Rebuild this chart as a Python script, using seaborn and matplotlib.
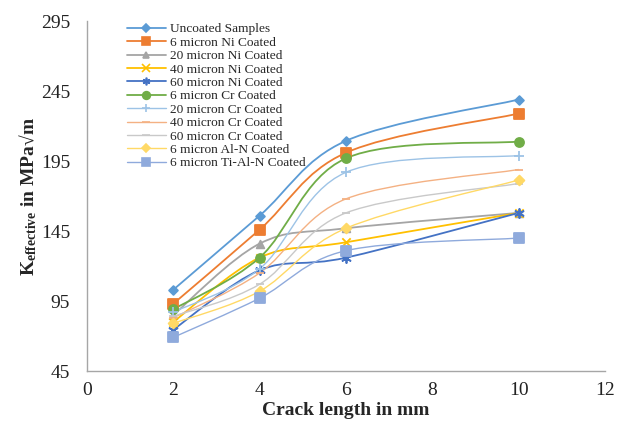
import numpy as np
import pandas as pd
import matplotlib
matplotlib.use("Agg")
import matplotlib.pyplot as plt
from matplotlib.path import Path
from matplotlib.patches import PathPatch
from matplotlib.lines import Line2D
import seaborn as sns

crack_mm = [2, 4, 6, 10]
series_names = ["Uncoated Samples", "6 micron Ni Coated", "20 micron Ni Coated",
                "40 micron Ni Coated", "60 micron Ni Coated", "6 micron Cr Coated",
                "20 micron Cr Coated", "40 micron Cr Coated", "60 micron Cr Coated",
                "6 micron Al-N Coated", "6 micron Ti-Al-N Coated"]
uncoated = [103, 156, 209.5, 239]
ni_6 = [93, 146, 201, 229]
ni_20 = [85, 136, 147, 158]
ni_40 = [80, 126, 137, 158]
ni_60 = [74.5, 117, 126, 158]
cr_6 = [89, 126, 197, 209]
cr_20 = [87, 118, 187, 199]
cr_40 = [83, 115, 168, 189]
cr_60 = [84, 107, 158, 179]
aln_6 = [79, 102, 147, 181.5]
tialn_6 = [69, 97, 131, 140]
values = [uncoated, ni_6, ni_20, ni_40, ni_60, cr_6, cr_20, cr_40, cr_60, aln_6, tialn_6]

colors = ["#5B9BD5", "#ED7D31", "#A5A5A5", "#FFC000", "#4472C4", "#70AD47",
          "#9DC3E6", "#F4B183", "#C9C9C9", "#FFD966", "#8FAADC"]
markers = ["D", "s", "^", "x", (6, 2, 0), "o", "+", "_", "_", "D", "s"]
msizes = [4.5, 6.5, 5.5, 6, 6.5, 6.5, 7, 6, 6, 5, 6.5]
lwidths = [1.3, 1.3, 1.3, 1.3, 1.3, 1.3, 1.0, 1.0, 1.0, 1.0, 1.0]

sns.set_theme(style="white")
plt.rcParams["font.family"] = ["Liberation Serif", "DejaVu Serif"]
plt.rcParams["mathtext.fontset"] = "custom"
plt.rcParams["mathtext.rm"] = "Liberation Serif"
plt.rcParams["mathtext.bf"] = "Liberation Serif:bold"

fig = plt.figure(figsize=(6.29, 4.24), dpi=100)
ax = fig.add_axes([0.138, 0.125, 0.824, 0.825])


def smooth_path(xs, ys):
    pts = np.column_stack([xs, ys]).astype(float)
    n = len(pts)
    verts = [pts[0]]
    codes = [Path.MOVETO]
    for i in range(n - 1):
        p0 = pts[i - 1] if i > 0 else pts[i]
        p1 = pts[i]
        p2 = pts[i + 1]
        p3 = pts[i + 2] if i + 2 < n else pts[i + 1]
        c1 = p1 + (p2 - p0) / 6.0
        c2 = p2 - (p3 - p1) / 6.0
        verts += [c1, c2, p2]
        codes += [Path.CURVE4] * 3
    return Path(verts, codes)


handles = []
for name, vals, col, mk, ms, lw in zip(series_names, values, colors, markers, msizes, lwidths):
    df = pd.DataFrame({"x": crack_mm, "y": vals})
    ax.add_patch(PathPatch(smooth_path(df["x"], df["y"]), facecolor="none",
                           edgecolor=col, lw=lw, zorder=2))
    filled = mk not in ("x", "+", "_") and not isinstance(mk, tuple)
    sns.scatterplot(data=df, x="x", y="y", marker=mk, s=ms ** 2, color=col, ax=ax,
                    edgecolor=col if filled else None, linewidth=1.3, zorder=3, legend=False)
    handles.append(Line2D([0], [0], color=col, lw=lw, marker=mk, markersize=ms * 0.85,
                          markeredgecolor=col, markerfacecolor=col, mew=1.2))

ax.set_xlim(0, 12)
ax.set_ylim(45, 295)
ax.set_xticks(range(0, 13, 2))
ax.set_yticks(range(45, 296, 50))
ax.tick_params(axis="both", labelsize=14, length=0, colors="#222222")
ax.tick_params(axis="x", pad=8)
ax.tick_params(axis="y", pad=12)
for s in ["top", "right"]:
    ax.spines[s].set_visible(False)
for s in ["left", "bottom"]:
    ax.spines[s].set_color("#A6A6A6")
    ax.spines[s].set_linewidth(1.0)

ax.set_xlabel("Crack length in mm", fontsize=14, fontweight="bold")
ax.set_ylabel(r"$\mathbf{K_{effective}}$ in MPa√m", fontsize=14, fontweight="bold")
ax.xaxis.set_label_coords(0.5, -0.088)
ax.yaxis.set_label_coords(-0.092, 0.5)

leg = ax.legend(handles, series_names, loc="upper left", bbox_to_anchor=(0.067, 1.01),
                frameon=False, fontsize=9.6, handlelength=2.9, labelspacing=0.08,
                handletextpad=0.35, borderaxespad=0)

fig.savefig("out.png", dpi=100)
